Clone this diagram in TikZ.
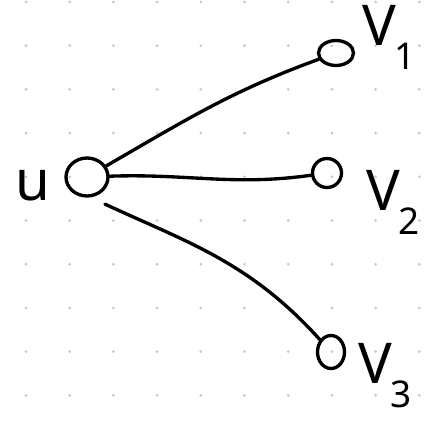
\documentclass[tikz,border=0pt]{standalone}
\usepackage{fontspec}
\setmainfont{Noto Sans}
\usetikzlibrary{shapes.geometric}
\tikzset{vert/.style={draw,ellipse,line width=1.9pt,inner sep=0pt},
  lbl/.style={font=\fontsize{32}{34}\selectfont,inner sep=0pt},
  edge/.style={line width=1.9pt,line cap=round}}
\newcommand{\lsub}[1]{\kern-1pt\raisebox{-14pt}{\fontsize{21}{22}\selectfont #1}}

\begin{document}
\begin{tikzpicture}[x=0.02cm,y=-0.02cm]
\useasboundingbox (0,0) rectangle (445,426);
\foreach \i in {0,...,9} \foreach \j in {0,...,9} \fill[gray!45] (26+43.7*\i,2+43.7*\j) circle (0.03cm);
\node[vert,minimum width=0.84cm,minimum height=0.76cm] (u) at (87,177) {};
\node[lbl,anchor=base] (ul) at (33,200) {u};
\node[vert,minimum width=0.7cm,minimum height=0.5cm] (v1) at (336,53) {};
\node[lbl,anchor=base west] (v1l) at (362,45) {V\lsub{1}};
\node[vert,minimum width=0.58cm,minimum height=0.58cm] (v2) at (327,173) {};
\node[lbl,anchor=base west] (v2l) at (366,210) {V\lsub{2}};
\node[vert,minimum width=0.54cm,minimum height=0.66cm] (v3) at (331,352) {};
\node[lbl,anchor=base west] (v3l) at (358,383) {V\lsub{3}};
\draw[edge] (u) to[out=30,in=200] (v1);
\draw[edge] (u) to[out=2,in=188] (v2);
\draw[edge,shorten <=9pt] (u.-80) to[out=-25,in=132] (v3);
\end{tikzpicture}
\end{document}
